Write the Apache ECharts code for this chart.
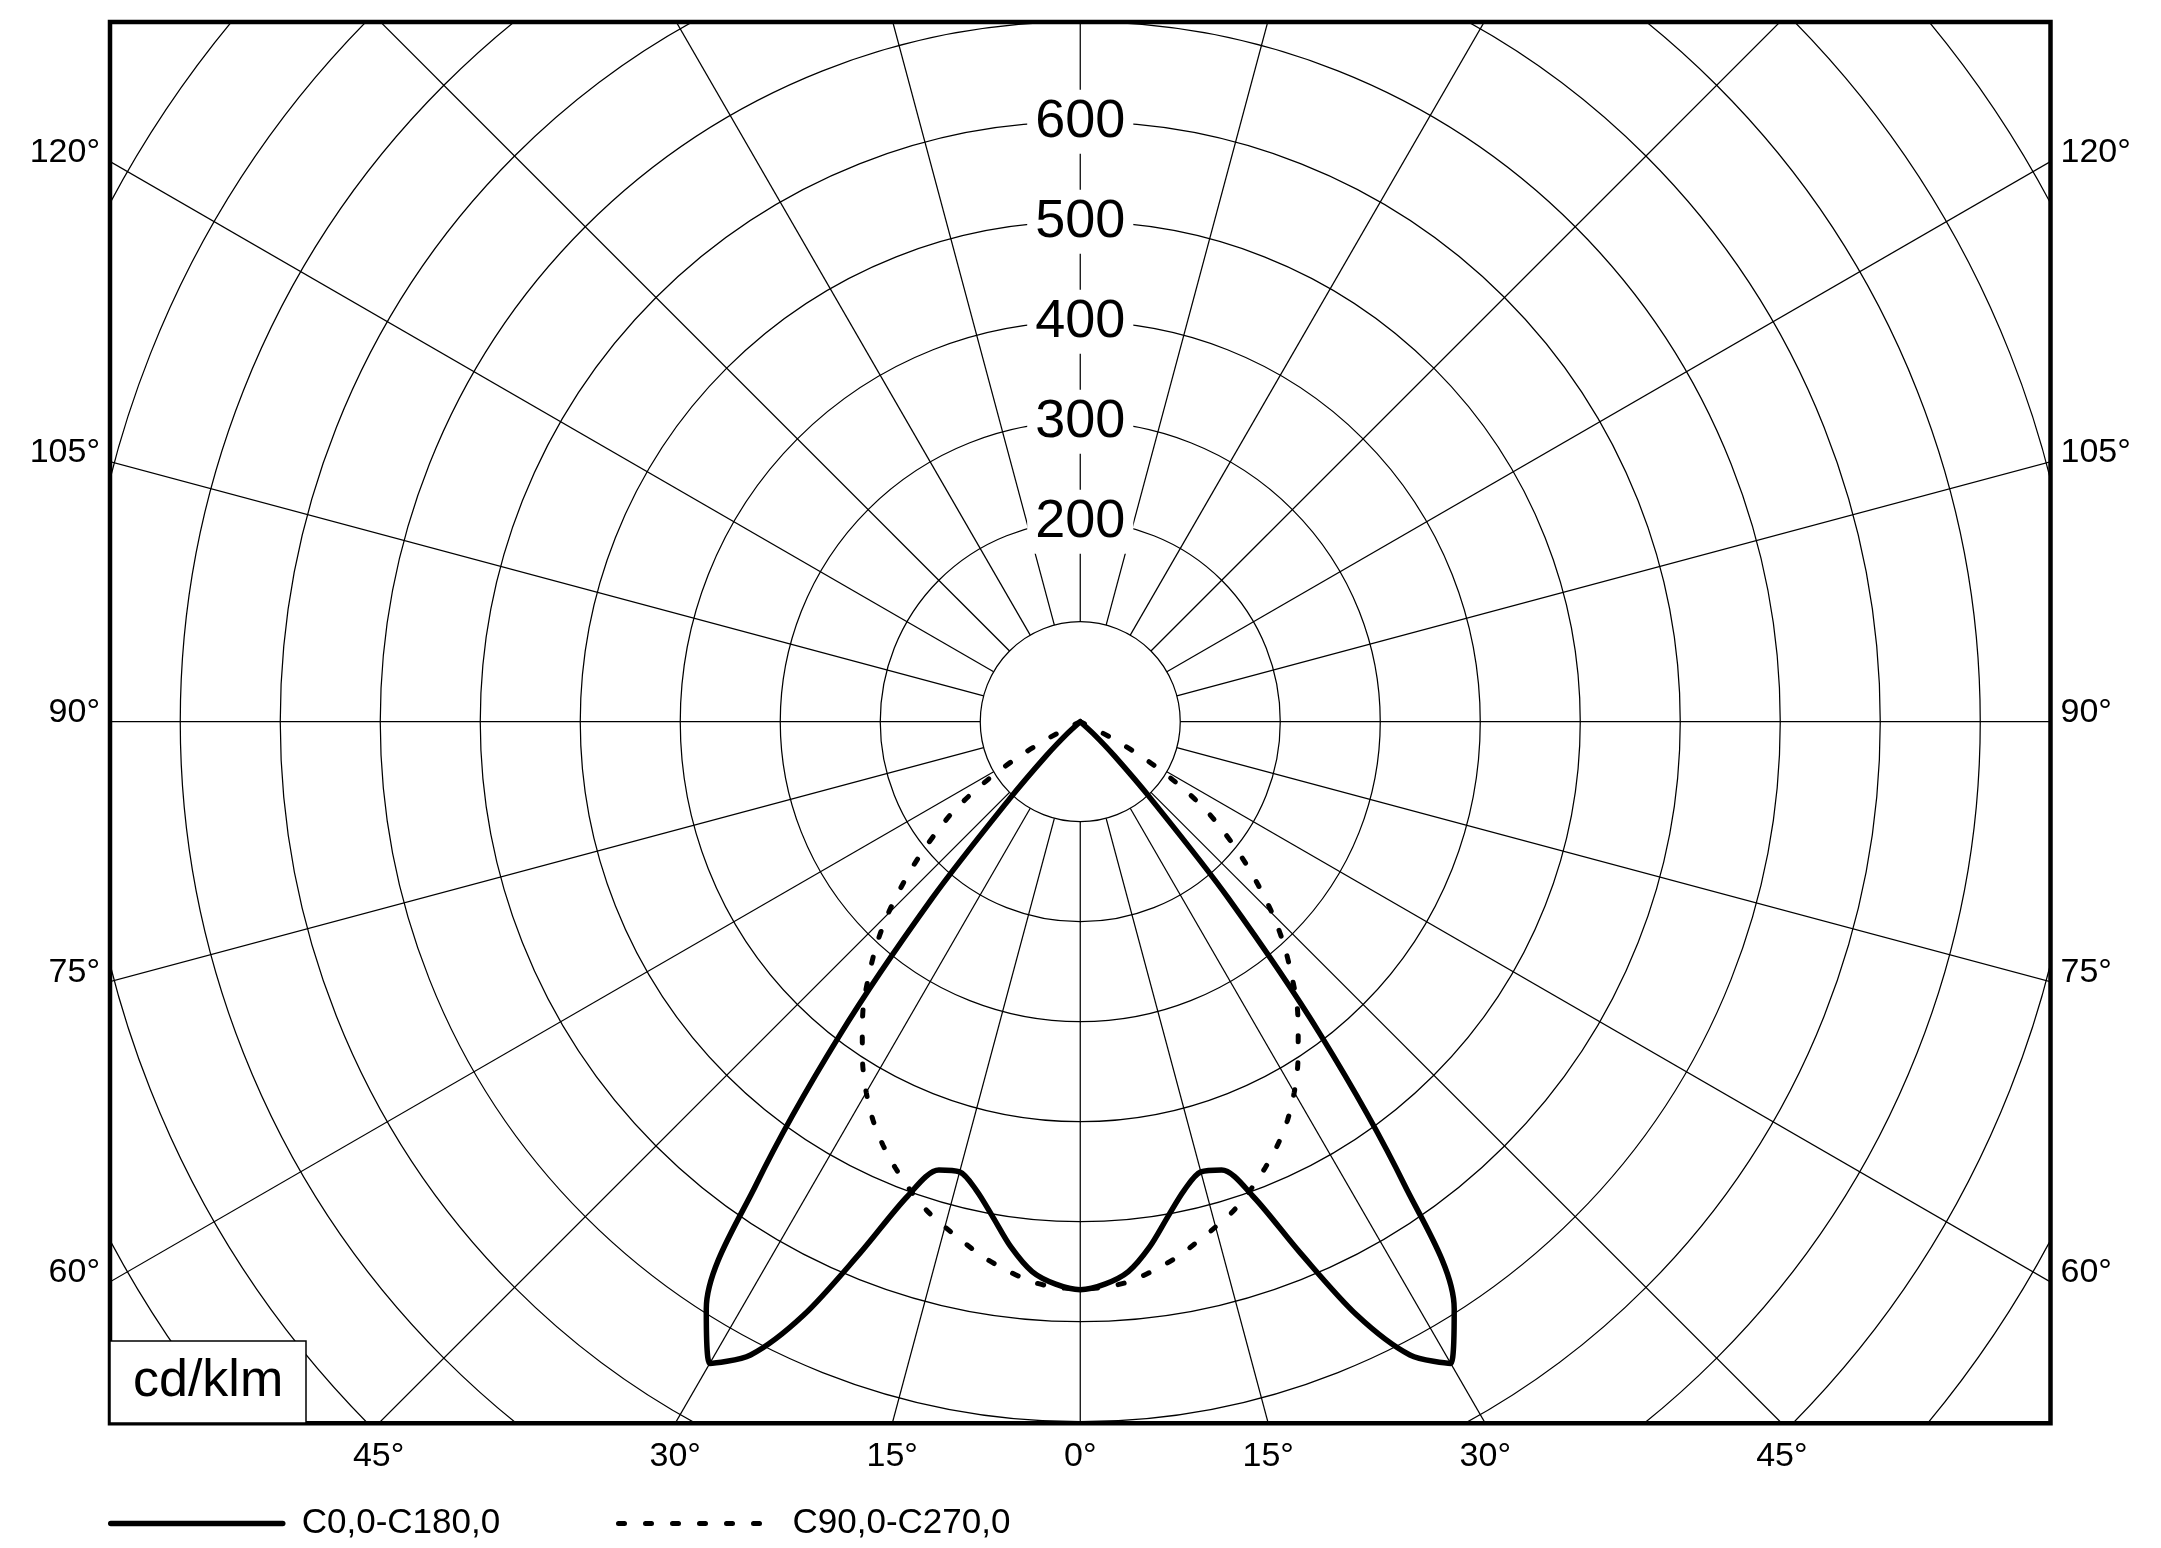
<!DOCTYPE html>
<html>
<head>
<meta charset="utf-8">
<script src="https://cdn.jsdelivr.net/npm/echarts@6/dist/echarts.min.js"></script>
<style>
html,body{margin:0;padding:0;background:#fff;}
#chart{width:2161px;height:1548px;}
</style>
</head>
<body>
<div id="chart"></div>
<script>
// ---- data (cd/klm vs. gamma angle, symmetric planes) ----
const gammaDeg = [0, 2.5, 5, 7.5, 10, 12.5, 15, 17.5, 20, 22.5, 25, 27.5, 30, 32.5, 35, 37.5, 40, 42.5, 45, 47.5, 50, 52.5, 55, 57.5, 60, 62.5, 65];
const intensityC0C180 = [568, 563, 552, 530, 503, 480, 466, 470, 505, 575, 655, 714, 741, 696, 565, 395, 230, 105, 48, 18, 0, 0, 0, 0, 0, 0, 0];
const intensityC90C270 = [567, 566, 562, 554, 545, 534, 523, 512, 498, 483, 467, 449, 428, 405, 380, 356, 328, 301, 272, 241, 211, 181, 152, 115, 77, 37, 0];

// ---- grid / tick definitions ----
const circleRadii = [100, 200, 300, 400, 500, 600, 700, 800, 900, 1000, 1100, 1200, 1300];
const radialLineAngles = [0, 15, 30, 45, 60, 75, 90, 105, 120, 135, 150, 165, 180, 195, 210, 225, 240, 255, 270, 285, 300, 315, 330, 345];
const radiusTickLabels = [200, 300, 400, 500, 600];
const bottomTickAngles = [-45, -30, -15, 0, 15, 30, 45];
const sideTickAngles = [60, 75, 90, 105, 120];
const seriesNames = ['C0,0-C180,0', 'C90,0-C270,0'];
const unitLabel = 'cd/klm';

const FONT = '"Liberation Sans", Arial, Helvetica, sans-serif';
const X_MIN = -970.25, X_MAX = 970.25, Y_MIN = -701.6, Y_MAX = 699.7;
const rad = d => d * Math.PI / 180;
const toXY = (I, g) => [I * Math.sin(rad(g)), -I * Math.cos(rad(g))];

function buildCurve(vals) {
  const pts = [];
  for (let i = gammaDeg.length - 1; i >= 0; i--) pts.push(toXY(vals[i], -gammaDeg[i]));
  for (let i = 1; i < gammaDeg.length; i++) pts.push(toXY(vals[i], gammaDeg[i]));
  return pts;
}

const bottomTickValues = bottomTickAngles.map(g => -Y_MIN * Math.tan(rad(g)));
const sideTickValues = sideTickAngles.map(g => -X_MAX * Math.cos(rad(g)) / Math.sin(rad(g)));
function nearestLabel(values, labels, v) {
  let best = 0;
  for (let i = 1; i < values.length; i++) if (Math.abs(values[i] - v) < Math.abs(values[best] - v)) best = i;
  return Math.abs(labels[best]) + '°';
}

const sideAxis = (pos) => ({
  type: 'value', position: pos, min: Y_MIN, max: Y_MAX,
  axisLine: {show: false}, axisTick: {show: false}, splitLine: {show: false},
  axisLabel: {
    customValues: sideTickValues, margin: 10,
    formatter: v => nearestLabel(sideTickValues, sideTickAngles, v),
    fontSize: 34, fontFamily: FONT, color: '#000',
    verticalAlign: 'bottom', lineHeight: 18
  }
});

const solidStyle = {color: '#000', width: 5.5, join: 'round', cap: 'round'};
const dottedStyle = {color: '#000', width: 5, type: [6, 21], cap: 'round'};

const legendItem = (left, width, name, gap, lineStyle) => ({
  left: left, top: 1506, padding: 0, itemWidth: width, itemHeight: 34, selectedMode: false,
  data: [name], itemStyle: {opacity: 0}, lineStyle: lineStyle,
  textStyle: {fontSize: 35, color: '#000', fontFamily: FONT, padding: [0, 0, 0, gap]}
});

const chart = echarts.init(document.getElementById('chart'), null, {renderer: 'canvas'});
chart.setOption({
  animation: false,
  backgroundColor: '#fff',
  title: {
    text: unitLabel, left: 110, top: 1341, padding: [15, 23], z: 10,
    backgroundColor: '#fff', borderColor: '#000', borderWidth: 1.5,
    textStyle: {fontSize: 52, fontWeight: 'normal', color: '#000', fontFamily: FONT}
  },
  legend: [
    legendItem(108, 172, seriesNames[0], 14, solidStyle),
    legendItem(616, 152, seriesNames[1], 17, dottedStyle)
  ],
  grid: {left: 110, top: 22, width: 1940.5, height: 1401.3, show: true, borderColor: '#000', borderWidth: 4.5,
         backgroundColor: '#fff', containLabel: false, outerBoundsMode: 'none'},
  xAxis: {
    type: 'value', min: X_MIN, max: X_MAX,
    axisLine: {show: false}, axisTick: {show: false}, splitLine: {show: false},
    axisLabel: {
      customValues: bottomTickValues, margin: 16,
      formatter: v => nearestLabel(bottomTickValues, bottomTickAngles, v),
      fontSize: 34, fontFamily: FONT, color: '#000', lineHeight: 34
    }
  },
  yAxis: [sideAxis('left'), sideAxis('right')],
  series: [
    {
      type: 'custom', name: 'circles', z: 1, clip: true, silent: true,
      data: circleRadii.map(r => [r, 0]),
      renderItem: (params, api) => {
        const c = api.coord([0, 0]);
        const e = api.coord([api.value(0), 0]);
        return {type: 'circle', shape: {cx: c[0], cy: c[1], r: e[0] - c[0]},
                style: {fill: null, stroke: '#000', lineWidth: 1.25}};
      }
    },
    {
      type: 'custom', name: 'radials', z: 1, clip: true, silent: true,
      data: radialLineAngles.map(a => [a, 0]),
      renderItem: (params, api) => {
        const a = api.value(0);
        const p1 = api.coord(toXY(circleRadii[0], a));
        const p2 = api.coord(toXY(1500, a));
        return {type: 'line', shape: {x1: p1[0], y1: p1[1], x2: p2[0], y2: p2[1]},
                style: {stroke: '#000', lineWidth: 1.25}};
      }
    },
    {
      type: 'line', name: seriesNames[0], z: 3, data: buildCurve(intensityC0C180),
      showSymbol: false, symbol: 'none', smooth: 0.3, clip: true,
      lineStyle: solidStyle, itemStyle: {color: '#000'}
    },
    {
      type: 'line', name: seriesNames[1], z: 3, data: buildCurve(intensityC90C270),
      showSymbol: false, symbol: 'none', smooth: 0.3, clip: true,
      lineStyle: dottedStyle, itemStyle: {color: '#000'}
    },
    {
      type: 'custom', name: 'radiusLabels', z: 5, silent: true,
      data: radiusTickLabels.map(v => [0, v]),
      renderItem: (params, api) => {
        const p = api.coord([0, api.value(1)]);
        return {type: 'text', x: p[0], y: p[1],
                style: {text: String(api.value(1)), fill: '#000', font: '54px ' + FONT,
                        align: 'center', verticalAlign: 'middle', backgroundColor: '#fff', padding: [5, 8]}};
      }
    }
  ]
});
</script>
</body>
</html>
